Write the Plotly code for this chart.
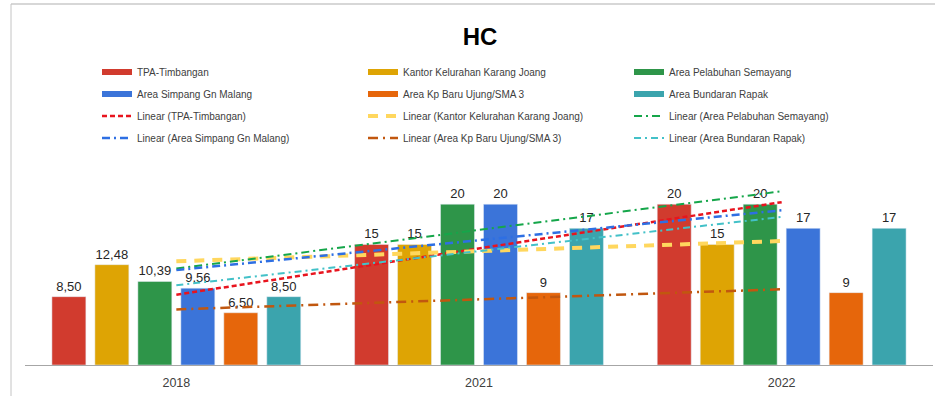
import numpy as np
import plotly.graph_objects as go

# ---- data -----------------------------------------------------------------
years = ["2018", "2021", "2022"]
label_decimals = [2, 0, 0]  # how each year's value labels are written

series_names = [
    "TPA-Timbangan",
    "Kantor Kelurahan Karang Joang",
    "Area Pelabuhan Semayang",
    "Area Simpang Gn Malang",
    "Area Kp Baru Ujung/SMA 3",
    "Area Bundaran Rapak",
]
tpa_timbangan = [8.50, 15, 20]
kantor_karang_joang = [12.48, 15, 15]
pelabuhan_semayang = [10.39, 20, 20]
simpang_gn_malang = [9.56, 20, 17]
kp_baru_ujung = [6.50, 9, 9]
bundaran_rapak = [8.50, 17, 17]
series_values = [tpa_timbangan, kantor_karang_joang, pelabuhan_semayang,
                 simpang_gn_malang, kp_baru_ujung, bundaran_rapak]

# ---- styling --------------------------------------------------------------
bar_colors = ["#D13B2E", "#DEA404", "#2E9549", "#3B74D9", "#E6660B", "#3BA4AD"]
trend_styles = [
    dict(color="#E8141E", width=2.5, dash="5px,3px"),
    dict(color="#FFD75E", width=4, dash="10px,8px"),
    dict(color="#15A64A", width=2, dash="8px,4px,2px,4px"),
    dict(color="#2E6FE3", width=2.5, dash="8px,4px,2px,4px"),
    dict(color="#C1570F", width=2.5, dash="10px,5px,2px,5px"),
    dict(color="#43C1C8", width=2, dash="7px,4px,2px,4px"),
]

W, H = 935, 396
M_L, M_R, M_T, M_B = 25, 2, 164, 31
PW, PH = W - M_L - M_R, H - M_T - M_B


def px_x(px):
    return (px - M_L) / PW


def px_y(py):
    return (H - M_B - py) / PH


def fmt(v, d):
    return f"{v:.{d}f}".replace(".", ",")


fig = go.Figure()

# bars with value labels
for name, vals, col in zip(series_names, series_values, bar_colors):
    fig.add_trace(go.Bar(
        x=years, y=vals, name=name, marker_color=col,
        text=[fmt(v, d) for v, d in zip(vals, label_decimals)],
        textposition="outside", cliponaxis=False,
        textfont=dict(family="Liberation Sans, Arial, sans-serif", size=13, color="#262626"),
        showlegend=False,
    ))

# legend rows: bar swatches on rows 1-2, trendlines on rows 3-4
legend_ids = ["legend", "legend2", "legend3", "legend4"]

for i, (name, col) in enumerate(zip(series_names, bar_colors)):
    fig.add_trace(go.Scatter(
        x=[None], y=[None], mode="lines", name=name,
        line=dict(color=col, width=6), legend=legend_ids[i // 3],
    ))

# linear trendlines (least squares over the category index)
xi = np.arange(1, len(years) + 1)
for i, (name, vals, st) in enumerate(zip(series_names, series_values, trend_styles)):
    slope, intercept = np.polyfit(xi, vals, 1)
    fit = slope * xi + intercept
    fig.add_trace(go.Scatter(
        x=years, y=fit, mode="lines", name=f"Linear ({name})",
        line=st, legend=legend_ids[2 + i // 3], hoverinfo="skip",
    ))

row_centers = [72, 94, 116, 138]
legend_common = dict(
    orientation="h", xanchor="left", yanchor="middle",
    x=px_x(97), entrywidth=221, entrywidthmode="pixels",
    font=dict(family="Liberation Sans, Arial, sans-serif", size=10, color="#404040"),
    bgcolor="rgba(0,0,0,0)", borderwidth=0,
)

layout_legends = {}
for lid, yc in zip(legend_ids, row_centers):
    layout_legends[lid] = dict(legend_common, y=px_y(yc))

fig.update_layout(
    width=W, height=H,
    margin=dict(l=M_L, r=M_R, t=M_T, b=M_B, pad=0),
    paper_bgcolor="white", plot_bgcolor="white",
    barmode="group", bargap=0.148, bargroupgap=0.21,
    title=dict(
        text="<b>HC</b>", x=480 / W, xanchor="center",
        y=1 - 37 / H, yanchor="middle", yref="container",
        font=dict(family="Liberation Sans Narrow, Arial Narrow, Liberation Sans, sans-serif",
                  size=24, color="#000000"),
    ),
    xaxis=dict(
        type="category", showgrid=False, zeroline=False,
        showline=True, linecolor="#A6A6A6", linewidth=1,
        ticks="", ticklabelstandoff=6,
        tickfont=dict(family="Liberation Sans, Arial, sans-serif", size=12.5, color="#404040"),
    ),
    yaxis=dict(range=[0, 25], visible=False, showgrid=False, zeroline=False),
    shapes=[
        dict(type="line", xref="paper", yref="paper",
             x0=px_x(11), x1=px_x(936), y0=px_y(4), y1=px_y(4),
             line=dict(color="#AFAFAF", width=1)),
        dict(type="line", xref="paper", yref="paper",
             x0=px_x(11), x1=px_x(11), y0=px_y(4), y1=px_y(397),
             line=dict(color="#C4C4C4", width=1)),
    ],
    **layout_legends,
)

fig.write_html("out.html")
